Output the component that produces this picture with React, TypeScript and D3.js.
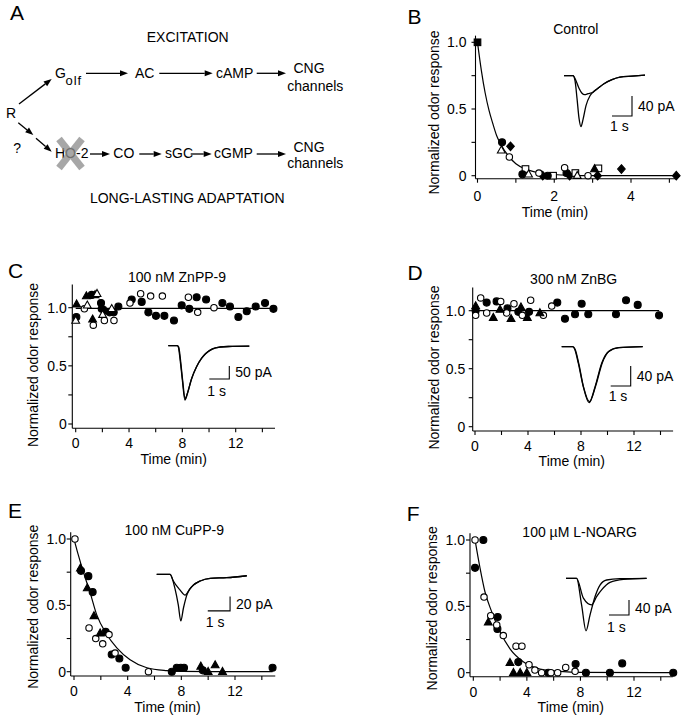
import React from 'react';
import * as d3 from 'd3';

type P = [number, number];
type Marker = 'fc' | 'oc' | 'ft' | 'ot' | 'fs' | 'os' | 'fd';

const FONT = "'Liberation Sans', Arial, Helvetica, sans-serif";

// ---------------- Panel B : Control ----------------
const bFilledSquares: P[] = [[0, 1.0]];
const bFilledCircles: P[] = [[0.64, 0.25], [1.17, 0.01], [1.83, 0.0], [2.32, 0.02]];
const bOpenCircles: P[] = [[0.83, 0.14], [1.6, 0.02], [2.27, 0.06], [2.88, 0.0]];
const bOpenTriangles: P[] = [[0.62, 0.19], [1.33, 0.01], [2.6, 0.0]];
const bFilledDiamonds: P[] = [[0.86, 0.22], [1.7, 0.0], [2.4, 0.0], [3.13, 0.0], [3.75, 0.05], [5.18, 0.0]];
const bOpenSquares: P[] = [[1.25, 0.05], [1.97, 0.0], [2.55, 0.02], [3.15, 0.055]];
const bFilledTriangles: P[] = [[3.05, 0.05]];
const bFit: P[] = [[0, 1], [0.1, 0.79], [0.2, 0.62], [0.3, 0.49], [0.4, 0.39], [0.5, 0.3], [0.6, 0.24], [0.8, 0.15], [1.0, 0.09], [1.25, 0.05], [1.5, 0.028], [2, 0.009], [2.5, 0.003], [3, 0.001], [4, 0], [5.15, 0]];
const bTraceLarge: P[] = [[0, 0], [0.45, 0], [0.55, -10], [0.65, -45], [0.75, -85], [0.85, -102], [0.95, -88], [1.1, -60], [1.3, -40], [1.45, -33], [1.7, -25], [2.0, -16], [2.4, -8], [2.8, -3], [3.4, -1], [4.05, 1]];
const bTraceSmall: P[] = [[0, 0], [0.45, 0], [0.6, -10], [0.75, -25], [0.9, -35], [1.03, -38], [1.2, -36], [1.45, -33], [1.7, -25], [2.0, -16], [2.4, -8], [2.8, -3], [3.4, -1], [4.05, 1]];

// ---------------- Panel C : 100 nM ZnPP-9 ----------------
const cFilledCircles: P[] = [[0.05, 0.92], [1.2, 1.11], [1.9, 1.04], [1.95, 0.99], [2.55, 0.96], [2.85, 0.96], [3.2, 1.01], [4.2, 1.07], [4.95, 1.05], [5.45, 0.96], [6.02, 0.93], [6.65, 0.93], [7.37, 0.89], [7.95, 1.02], [8.52, 0.99], [9.07, 1.09], [9.78, 1.07], [11.0, 1.04], [11.57, 1.01], [12.2, 0.92], [12.83, 0.97], [13.5, 1.01], [14.2, 1.04], [14.83, 0.99]];
const cOpenCircles: P[] = [[0.65, 0.99], [1.32, 0.85], [2.15, 0.89], [2.87, 0.89], [4.07, 1.04], [4.87, 1.12], [5.62, 1.1], [6.5, 1.1], [8.45, 1.09], [9.15, 0.96], [10.37, 1.0]];
const cFilledTriangles: P[] = [[0.07, 1.03], [0.8, 1.1], [1.45, 1.11], [1.27, 0.9], [2.25, 0.97]];
const cOpenTriangles: P[] = [[0.0, 0.89], [0.87, 1.02], [1.6, 1.12], [2.02, 0.94], [2.7, 0.99]];
const cFit: P[] = [[0, 0.995], [14.8, 0.995]];
const cTraceA: P[] = [[0, 0], [0.45, 0], [0.5, -5], [0.6, -60], [0.7, -130], [0.83, -209], [0.95, -185], [1.15, -130], [1.4, -83], [1.65, -50], [1.85, -32], [2.2, -13], [2.6, -5], [3.0, -3], [4.05, -2]];
const cTraceB: P[] = [[0, 0], [0.45, 0], [0.52, -5], [0.62, -62], [0.72, -135], [0.84, -205], [0.97, -180], [1.17, -126], [1.42, -80], [1.67, -48], [1.87, -30], [2.2, -12], [2.6, -5], [3.0, -3], [4.05, -2]];

// ---------------- Panel D : 300 nM ZnBG ----------------
const dFilledCircles: P[] = [[0.05, 1.0], [0.88, 1.07], [1.63, 1.08], [2.45, 1.02], [3.27, 0.99], [4.08, 0.99], [6.21, 1.07], [6.79, 0.93], [7.55, 0.97], [8.05, 1.06], [8.55, 0.97], [10.64, 0.97], [11.4, 1.09], [12.28, 1.05], [13.89, 0.96]];
const dOpenCircles: P[] = [[0.05, 0.96], [0.43, 1.11], [0.88, 0.98], [1.94, 1.08], [2.39, 0.98], [2.94, 1.06], [3.57, 0.96], [4.2, 1.09], [5.16, 0.96], [5.79, 1.04]];
const dFilledTriangles: P[] = [[0.05, 1.04], [1.38, 0.94], [1.89, 1.01], [2.72, 0.93], [3.47, 1.03], [3.95, 0.94], [4.9, 0.98]];
const dFit: P[] = [[0, 1.0], [13.9, 1.0]];
const dTraceA: P[] = [[0, 0], [0.55, 0], [0.65, -5], [0.83, -33], [1.08, -80], [1.37, -112], [1.67, -80], [2.0, -33], [2.33, -10], [2.83, -2], [4.05, 0]];
const dTraceB: P[] = [[0, 0], [0.55, 0], [0.67, -5], [0.86, -35], [1.1, -82], [1.39, -110], [1.7, -78], [2.04, -31], [2.37, -9], [2.87, -2], [4.05, 0]];

// ---------------- Panel E : 100 nM CuPP-9 ----------------
const eFilledCircles: P[] = [[0.52, 0.76], [1.07, 0.72], [1.39, 0.6], [2.36, 0.3], [2.81, 0.13], [3.38, 0.1], [3.85, 0.03], [7.29, 0.0], [7.66, 0.03], [7.96, 0.03], [8.2, 0.03], [9.6, 0.01], [14.8, 0.03]];
const eOpenCircles: P[] = [[0.07, 1.0], [1.12, 0.33], [1.62, 0.25], [2.14, 0.21], [2.61, 0.28], [3.06, 0.14], [5.55, 0.0]];
const eFilledTriangles: P[] = [[0.48, 0.78], [0.99, 0.63], [1.49, 0.42], [1.95, 0.29], [9.45, 0.04], [10.0, 0.0], [10.52, 0.05], [11.07, 0.0]];
const eFit: P[] = [[0, 1], [0.32, 0.88], [0.7, 0.75], [1.19, 0.6], [1.69, 0.43], [2.44, 0.28], [3.19, 0.18], [4.18, 0.09], [5.43, 0.03], [6.92, 0.008], [8, 0.002], [14.8, 0]];
const eTraceLarge: P[] = [[0, 0], [0.6, 0], [0.82, -20], [0.97, -43], [1.08, -65], [1.2, -47], [1.35, -29], [1.5, -20], [1.65, -15], [1.95, -9.3], [2.4, -5.6], [3.14, -4.7], [4.04, -2]];
const eTraceSmall: P[] = [[0, 0], [0.6, 0], [0.74, -9], [1.05, -22], [1.27, -29], [1.5, -20], [1.65, -15], [1.95, -9.3], [2.4, -5.6], [3.14, -4.7], [4.04, -2]];

// ---------------- Panel F : 100 µM L-NOARG ----------------
const fFilledCircles: P[] = [[0.75, 1.0], [0.13, 0.79], [1.82, 0.42], [1.8, 0.33], [3.36, 0.08], [5.6, 0.0], [7.64, 0.065], [8.41, 0.0], [10.2, 0.0], [11.12, 0.07], [14.93, 0.0]];
const fOpenCircles: P[] = [[0.13, 1.0], [0.8, 0.57], [1.3, 0.43], [1.75, 0.36], [2.24, 0.28], [3.19, 0.2], [3.63, 0.2], [4.16, 0.06], [4.6, 0.02], [5.1, 0.0], [5.8, 0.0], [6.3, 0.0], [6.9, 0.04], [7.6, 0.01]];
const fFilledTriangles: P[] = [[1.12, 0.38], [2.74, 0.075], [3.0, 0.0], [3.5, 0.0], [4.0, 0.0]];
const fFit: P[] = [[0.13, 1.0], [0.5, 0.79], [0.87, 0.61], [1.37, 0.46], [1.99, 0.31], [2.74, 0.18], [3.73, 0.083], [4.98, 0.028], [6.47, 0.01], [8, 0.002], [14.9, 0]];
const fTraceLarge: P[] = [[0, 0], [0.53, 0], [0.78, -71], [1.0, -140], [1.2, -98], [1.45, -49], [1.7, -18], [2.03, -4.5], [2.7, -1], [4.03, 0]];
const fTraceSmall: P[] = [[0, 0], [0.53, 0], [0.87, -53], [1.28, -71], [1.53, -49], [1.78, -31], [2.2, -11], [2.87, -3], [4.03, 0]];

// ---------------- Axis ticks ----------------
const yTickValues = [0, 0.25, 0.5, 0.75, 1.0];
const yLabelValues = [0, 0.5, 1.0];
const yLabelTexts = ['0', '0.5', '1.0'];
const bXTickValues = [0, 1, 2, 3, 4, 5];
const bXLabelValues = [0, 2, 4];
const longXTickValues = [0, 2, 4, 6, 8, 10, 12, 14];
const longXLabelValues = [0, 4, 8, 12];

interface InsetCfg {
  ox: number; oy: number; pxPerS: number; pxPerPA: number;
  traces: P[][]; barT: number; barPA: number; barAmp: number; barLabel: string; sLabelDy: number;
}

interface PanelCfg {
  letter: string; letterX: number; letterY: number;
  title: string; titleX: number; titleY: number;
  xRange: [number, number]; xRef: number;
  yRange: [number, number];
  xAxisMax: number; yAxisMax: number;
  yAxisOffset: number; xAxisOffset: number;
  xTicks: number[]; xLabels: number[];
  yLabelGap: number; xLabelY: number;
  yTitleX: number; yTitleY: number;
  xTitleX: number; xTitleY: number;
  series: { type: Marker; data: P[] }[];
  fit: P[];
  inset: InsetCfg;
}

function MarkerShape({ type, x, y }: { type: Marker; x: number; y: number }) {
  const filled = type[0] === 'f';
  const fill = filled ? '#000' : '#fff';
  const stroke = '#000';
  const sw = 1.1;
  const shape = type[1];
  if (shape === 'c') return <circle cx={x} cy={y} r={filled ? 3.5 : 3.2} fill={fill} stroke={stroke} strokeWidth={sw} />;
  if (shape === 't') {
    const pts = `${x},${y - 4.3} ${x + 3.9},${y + 2.7} ${x - 3.9},${y + 2.7}`;
    return <polygon points={pts} fill={fill} stroke={stroke} strokeWidth={sw} strokeLinejoin="miter" />;
  }
  if (shape === 's') return <rect x={x - 3.3} y={y - 3.3} width={6.6} height={6.6} fill={fill} stroke={stroke} strokeWidth={sw} />;
  const pts = `${x},${y - 4.3} ${x + 3.8},${y} ${x},${y + 4.3} ${x - 3.8},${y}`;
  return <polygon points={pts} fill={fill} stroke={stroke} strokeWidth={sw} />;
}

function Inset({ cfg }: { cfg: InsetCfg }) {
  const xs = d3.scaleLinear().domain([0, 1]).range([cfg.ox, cfg.ox + cfg.pxPerS]);
  const ys = d3.scaleLinear().domain([0, -1]).range([cfg.oy, cfg.oy + cfg.pxPerPA]);
  const line = d3.line<P>().x(d => xs(d[0])).y(d => ys(d[1])).curve(d3.curveMonotoneX);
  const bx = xs(cfg.barT);
  const by = ys(cfg.barPA);
  const bx0 = xs(cfg.barT - 1);
  const by1 = ys(cfg.barPA + cfg.barAmp);
  return (
    <g>
      {cfg.traces.map((t, i) => (
        <path key={i} d={line(t) || ''} fill="none" stroke="#000" strokeWidth={1.3} strokeLinejoin="round" />
      ))}
      <path d={`M${bx0},${by}H${bx}V${by1}`} fill="none" stroke="#000" strokeWidth={1.1} />
      <text x={bx + 6} y={(by + by1) / 2 + 5} fontSize={14}>{cfg.barLabel}</text>
      <text x={bx0 - 2} y={by + cfg.sLabelDy} fontSize={14}>1 s</text>
    </g>
  );
}

function Panel({ cfg }: { cfg: PanelCfg }) {
  const x = d3.scaleLinear().domain([0, cfg.xRef]).range(cfg.xRange);
  const y = d3.scaleLinear().domain([0, 1]).range(cfg.yRange);
  const axX = x(0) - cfg.yAxisOffset;
  const axY = y(0) + cfg.xAxisOffset;
  const fitLine = d3.line<P>().x(d => x(d[0])).y(d => y(d[1])).curve(d3.curveMonotoneX);
  return (
    <g>
      <text x={cfg.letterX} y={cfg.letterY} fontSize={21}>{cfg.letter}</text>
      <text x={cfg.titleX} y={cfg.titleY} fontSize={14} textAnchor="middle">{cfg.title}</text>
      <line x1={axX} x2={axX} y1={y(cfg.yAxisMax)} y2={axY} stroke="#000" strokeWidth={1.1} />
      <line x1={axX} x2={x(cfg.xAxisMax)} y1={axY} y2={axY} stroke="#000" strokeWidth={1.1} />
      {yTickValues.map(v => (
        <line key={'yt' + v} x1={axX - 4} x2={axX} y1={y(v)} y2={y(v)} stroke="#000" strokeWidth={1.1} />
      ))}
      {yLabelValues.map((v, i) => (
        <text key={'yl' + v} x={axX - cfg.yLabelGap} y={y(v) + 5} fontSize={14} textAnchor="end">{yLabelTexts[i]}</text>
      ))}
      {cfg.xTicks.map(v => (
        <line key={'xt' + v} x1={x(v)} x2={x(v)} y1={axY} y2={axY + 4} stroke="#000" strokeWidth={1.1} />
      ))}
      {cfg.xLabels.map(v => (
        <text key={'xl' + v} x={x(v)} y={cfg.xLabelY} fontSize={14} textAnchor="middle">{v}</text>
      ))}
      <text transform={`translate(${cfg.yTitleX},${cfg.yTitleY}) rotate(-90)`} fontSize={14} textAnchor="middle">Normalized odor response</text>
      <text x={cfg.xTitleX} y={cfg.xTitleY} fontSize={14} textAnchor="middle">Time (min)</text>
      <path d={fitLine(cfg.fit) || ''} fill="none" stroke="#000" strokeWidth={1.2} />
      {cfg.series.map((s, si) => s.data.map((d, i) => (
        <MarkerShape key={si + '-' + i} type={s.type} x={x(d[0])} y={y(d[1])} />
      )))}
      <Inset cfg={cfg.inset} />
    </g>
  );
}

function Arrow({ x1, y1, x2, y2 }: { x1: number; y1: number; x2: number; y2: number }) {
  const ang = Math.atan2(y2 - y1, x2 - x1);
  const L = 8, W = 3;
  const bx = x2 - L * Math.cos(ang), by = y2 - L * Math.sin(ang);
  const px = -Math.sin(ang) * W, py = Math.cos(ang) * W;
  return (
    <g>
      <line x1={x1} y1={y1} x2={bx} y2={by} stroke="#000" strokeWidth={1.3} />
      <polygon points={`${x2},${y2} ${bx + px},${by + py} ${bx - px},${by - py}`} fill="#000" />
    </g>
  );
}

function PanelA() {
  return (
    <g fontSize={14}>
      <text x={10} y={20} fontSize={21}>A</text>
      <text x={187.7} y={41.7} textAnchor="middle">EXCITATION</text>
      <text x={55} y={78.3}>G</text>
      <text x={65.5} y={84.5} fontSize={13} letterSpacing={1}>olf</text>
      <Arrow x1={86} y1={73.3} x2={128} y2={73.3} />
      <text x={135} y={78.3}>AC</text>
      <Arrow x1={159.3} y1={73.3} x2={212.7} y2={73.3} />
      <text x={216} y={78.3}>cAMP</text>
      <Arrow x1={256.7} y1={73.3} x2={286} y2={73.3} />
      <text x={309} y={73.3} textAnchor="middle">CNG</text>
      <text x={287.3} y={90.7}>channels</text>
      <text x={6} y={118.3}>R</text>
      <Arrow x1={19} y1={104} x2={51.7} y2={79} />
      <Arrow x1={18.3} y1={122.7} x2={33.3} y2={135} />
      <Arrow x1={36} y1={138.3} x2={51.7} y2={151.7} />
      <text x={13.3} y={153.3}>?</text>
      <text x={55} y={158.3}>HO-2</text>
      <g stroke="#8f8f8f" strokeWidth={7} opacity={0.78}>
        <line x1={59} y1={139} x2={82} y2={168} />
        <line x1={82} y1={139} x2={59} y2={168} />
      </g>
      <Arrow x1={90} y1={154} x2={110} y2={154} />
      <text x={113.3} y={158.3}>CO</text>
      <Arrow x1={139.3} y1={154} x2={161.7} y2={154} />
      <text x={165} y={158.3}>sGC</text>
      <Arrow x1={190.7} y1={154} x2={211.7} y2={154} />
      <text x={214} y={158.3}>cGMP</text>
      <Arrow x1={256.7} y1={154} x2={286} y2={154} />
      <text x={309} y={151.7} textAnchor="middle">CNG</text>
      <text x={287.3} y={168.3}>channels</text>
      <text x={187.3} y={203.3} textAnchor="middle">LONG-LASTING ADAPTATION</text>
    </g>
  );
}

const panelB: PanelCfg = {
  letter: 'B', letterX: 407.5, letterY: 23.5,
  title: 'Control', titleX: 575.8, titleY: 33.5,
  xRange: [477.5, 631], xRef: 4, yRange: [175.7, 42.3],
  xAxisMax: 5.15, yAxisMax: 1.05, yAxisOffset: 2, xAxisOffset: 3,
  xTicks: bXTickValues, xLabels: bXLabelValues,
  yLabelGap: 9, xLabelY: 200.5,
  yTitleX: 438.5, yTitleY: 112.5, xTitleX: 555, xTitleY: 216.5,
  series: [
    { type: 'fd', data: bFilledDiamonds },
    { type: 'os', data: bOpenSquares },
    { type: 'ft', data: bFilledTriangles },
    { type: 'fc', data: bFilledCircles },
    { type: 'oc', data: bOpenCircles },
    { type: 'ot', data: bOpenTriangles },
    { type: 'fs', data: bFilledSquares },
  ],
  fit: bFit,
  inset: { ox: 564, oy: 75.7, pxPerS: 20, pxPerPA: 0.5, traces: [bTraceLarge, bTraceSmall], barT: 3.4, barPA: -80.6, barAmp: 40, barLabel: '40 pA', sLabelDy: 14.5 },
};

const panelC: PanelCfg = {
  letter: 'C', letterX: 8, letterY: 278.3,
  title: '100 nM ZnPP-9', titleX: 177, titleY: 281.7,
  xRange: [75.7, 235.7], xRef: 12, yRange: [424, 307.7],
  xAxisMax: 14.95, yAxisMax: 1.2, yAxisOffset: 3.4, xAxisOffset: 4.3,
  xTicks: longXTickValues, xLabels: longXLabelValues,
  yLabelGap: 5.5, xLabelY: 448.3,
  yTitleX: 38, yTitleY: 365, xTitleX: 173.7, xTitleY: 464,
  series: [
    { type: 'fc', data: cFilledCircles },
    { type: 'oc', data: cOpenCircles },
    { type: 'ft', data: cFilledTriangles },
    { type: 'ot', data: cOpenTriangles },
  ],
  fit: cFit,
  inset: { ox: 168.3, oy: 345.7, pxPerS: 20, pxPerPA: 0.26, traces: [cTraceA, cTraceB], barT: 3.05, barPA: -128, barAmp: 50, barLabel: '50 pA', sLabelDy: 17.5 },
};

const panelD: PanelCfg = {
  letter: 'D', letterX: 407.5, letterY: 280,
  title: '300 nM ZnBG', titleX: 573.7, titleY: 284,
  xRange: [475, 634], xRef: 12, yRange: [426.7, 310.7],
  xAxisMax: 14.95, yAxisMax: 1.2, yAxisOffset: 2.3, xAxisOffset: 4.3,
  xTicks: longXTickValues, xLabels: longXLabelValues,
  yLabelGap: 7.5, xLabelY: 450.7,
  yTitleX: 438.5, yTitleY: 367.5, xTitleX: 571.8, xTitleY: 466,
  series: [
    { type: 'fc', data: dFilledCircles },
    { type: 'oc', data: dOpenCircles },
    { type: 'ft', data: dFilledTriangles },
  ],
  fit: dFit,
  inset: { ox: 561.7, oy: 346.7, pxPerS: 20, pxPerPA: 0.5, traces: [dTraceA, dTraceB], barT: 3.45, barPA: -78.6, barAmp: 40, barLabel: '40 pA', sLabelDy: 15 },
};

const panelE: PanelCfg = {
  letter: 'E', letterX: 8, letterY: 518.3,
  title: '100 nM CuPP-9', titleX: 174.2, titleY: 535,
  xRange: [74, 235], xRef: 12, yRange: [671.7, 539],
  xAxisMax: 15, yAxisMax: 1.05, yAxisOffset: 3.3, xAxisOffset: 4.3,
  xTicks: longXTickValues, xLabels: longXLabelValues,
  yLabelGap: 4.7, xLabelY: 696,
  yTitleX: 38, yTitleY: 606.7, xTitleX: 167.5, xTitleY: 712,
  series: [
    { type: 'fc', data: eFilledCircles },
    { type: 'oc', data: eOpenCircles },
    { type: 'ft', data: eFilledTriangles },
  ],
  fit: eFit,
  inset: { ox: 156.7, oy: 574.3, pxPerS: 22.3, pxPerPA: 0.717, traces: [eTraceLarge, eTraceSmall], barT: 3.29, barPA: -51, barAmp: 20, barLabel: '20 pA', sLabelDy: 15.7 },
};

const panelF: PanelCfg = {
  letter: 'F', letterX: 406.7, letterY: 520.7,
  title: '100 µM L-NOARG', titleX: 579.7, titleY: 537,
  xRange: [473.3, 634], xRef: 12, yRange: [672.7, 540],
  xAxisMax: 14.9, yAxisMax: 1.05, yAxisOffset: 3.3, xAxisOffset: 4,
  xTicks: longXTickValues, xLabels: longXLabelValues,
  yLabelGap: 5, xLabelY: 696.7,
  yTitleX: 436.5, yTitleY: 608.3, xTitleX: 570.8, xTitleY: 712,
  series: [
    { type: 'fc', data: fFilledCircles },
    { type: 'oc', data: fOpenCircles },
    { type: 'ft', data: fFilledTriangles },
  ],
  fit: fFit,
  inset: { ox: 566, oy: 578.3, pxPerS: 20, pxPerPA: 0.375, traces: [fTraceLarge, fTraceSmall], barT: 3.15, barPA: -98, barAmp: 40, barLabel: '40 pA', sLabelDy: 16.5 },
};

export default function App() {
  return (
    <svg width={685} height={720} style={{ position: 'absolute', left: 0, top: 0, background: '#fff' }} fontFamily={FONT}>
      <rect width={685} height={720} fill="#fff" />
      <PanelA />
      <Panel cfg={panelB} />
      <Panel cfg={panelC} />
      <Panel cfg={panelD} />
      <Panel cfg={panelE} />
      <Panel cfg={panelF} />
    </svg>
  );
}
